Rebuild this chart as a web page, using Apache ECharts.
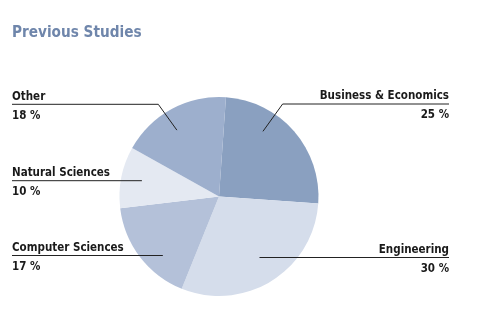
<!DOCTYPE html>
<html><head><meta charset="utf-8">
<script src="https://cdn.jsdelivr.net/npm/echarts@6/dist/echarts.min.js"></script>
<style>html,body{margin:0;padding:0;background:#fff}#c{width:480px;height:317px}</style>
</head><body><div id="c"></div>
<script>
const titleText = 'Previous Studies';
const categories = ['Business & Economics', 'Engineering', 'Computer Sciences', 'Natural Sciences', 'Other'];
const values = [25, 30, 17, 10, 18];
const colors = ['#8aa0c0', '#d5ddeb', '#b4c1d9', '#e4e9f2', '#9dafcd'];
// layout of leader lines (label row positions in px, anchor angle shift in degrees)
const labelLineY = [104, 257.5, 255.5, 180.7, 104.3];
const anchorShift = [-15, 1, -7, 0, -4];

const CX = 219, CY = 196.5, R = 99.5, START = 86;
const total = values.reduce((a, b) => a + b, 0);
const mids = [];
let cum = 0;
values.forEach(v => { mids.push((90 - START) + 360 * (cum + v / 2) / total); cum += v; });

const chart = echarts.init(document.getElementById('c'), null, {renderer: 'canvas'});
const font = '"DejaVu Sans Condensed", "Liberation Sans Narrow", sans-serif';
const pieData = categories.map((c, i) => ({name: c, value: values[i], itemStyle: {color: colors[i]}}));
chart.setOption({
  animation: false,
  title: {
    text: titleText, left: 7, top: 21,
    textStyle: {fontFamily: font, fontWeight: 'bold', fontSize: 15.2, color: '#6f86ab'}
  },
  series: [{
    type: 'pie',
    center: [CX, CY],
    radius: R,
    startAngle: START,
    clockwise: true,
    silent: true,
    label: {show: false},
    labelLine: {show: false},
    itemStyle: {borderWidth: 0},
    data: pieData
  }, {
    type: 'pie',
    z: 5,
    center: [CX, CY],
    radius: R,
    startAngle: START,
    clockwise: true,
    silent: true,
    avoidLabelOverlap: false,
    itemStyle: {borderWidth: 0, color: 'rgba(0,0,0,0)'},
    label: {
      show: true,
      position: 'outside',
      formatter: p => `{n|${p.name}}\n{p|${p.value} %}`,
      rich: {
        n: {fontFamily: font, fontWeight: 'bold', fontSize: 11.5, color: '#1a1a1a', lineHeight: 19},
        p: {fontFamily: font, fontWeight: 'bold', fontSize: 11.5, color: '#1a1a1a', lineHeight: 19}
      }
    },
    labelLine: {show: true, lineStyle: {color: '#222', width: 1}},
    labelLayout: function (params) {
      const i = params.dataIndex;
      const a = (mids[i] + anchorShift[i]) * Math.PI / 180;
      const side = Math.sin(a) >= 0 ? 1 : -1;
      const f = 0.79;
      let ax = CX + f * R * Math.sin(a), ay = CY - f * R * Math.cos(a);
      const ly = labelLineY[i];
      const endX = side > 0 ? 449 : 12;
      let pts;
      if (Math.abs(ay - ly) < 14) {
        pts = [[ax, ly], [endX, ly]];
      } else {
        const ex = ax + side * Math.abs(ay - ly) * 0.72;
        pts = [[ax, ay], [ex, ly], [endX, ly]];
      }
      return {
        x: endX, y: ly + 1.8,
        align: side > 0 ? 'right' : 'left',
        verticalAlign: 'middle',
        labelLinePoints: pts
      };
    },
    data: categories.map((c, i) => ({name: c, value: values[i]}))
  }]
});
</script>
</body></html>
